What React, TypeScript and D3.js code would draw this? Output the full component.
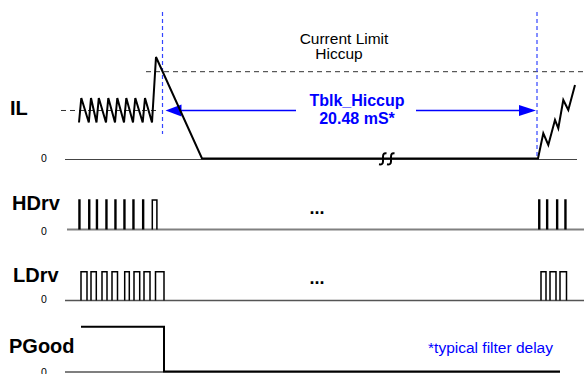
import React from 'react';
import * as d3 from 'd3';

// time axis in arbitrary units
const ilTime = [15, 17.3, 24.8, 27, 32.5, 34.8, 42, 44.3, 51, 53.3, 60, 62.3, 69, 71.3, 78.7, 81, 88, 92, 138, 474, 479.3, 484.3, 491, 494.3, 499.3, 504.3, 511];
const ilValue = [4.15, 6.97, 4.15, 6.97, 4.15, 6.97, 4.15, 6.97, 4.15, 6.97, 4.15, 6.97, 4.15, 6.97, 4.15, 6.97, 4.15, 11.69, 0, 0, 2.9, 1.56, 4.44, 3.48, 6.74, 5.59, 8.47];
const currentLimit = 10;
const currentAvg = 5.53;

const hdrvStart = [15, 24.8, 32.5, 42, 51, 60, 69, 78.7, 88.3, 474.8, 482.7, 492.7, 501];
const hdrvWidth = [0.9, 0.9, 0.9, 0.9, 0.9, 0.9, 0.9, 0.9, 4.6, 0.9, 0.9, 0.9, 0.9];

const ldrvStart = [17, 27, 38, 48, 60.7, 70, 80, 91.5, 477, 486, 496];
const ldrvEnd = [23, 32.3, 43, 53.5, 65.3, 75.7, 86, 100, 482, 492, 502.5];

const pgTime = [17, 100, 100, 496];
const pgValue = [1, 1, 0, 0];

const markerTimes = [98.5, 473];
const labels = ['IL', 'HDrv', 'LDrv', 'PGood'];

const FONT = 'Liberation Sans, Arial, Helvetica, sans-serif';

export default function App() {
  const x = d3.scaleLinear().domain([0, 520]).range([64, 584]);
  const yIL = d3.scaleLinear().domain([0, 10]).range([158.5, 71.7]);
  const yH = d3.scaleLinear().domain([0, 1]).range([229.5, 200]);
  const yL = d3.scaleLinear().domain([0, 1]).range([300.5, 271.7]);
  const yP = d3.scaleLinear().domain([0, 1]).range([371.5, 326.7]);

  const ilLine = d3.line<number>().x((_, i) => x(ilTime[i])).y((d) => yIL(d));
  const ilPath = ilLine(ilValue) || '';

  const pulse = (y: d3.ScaleLinear<number, number>) =>
    d3.line<[number, number]>().x((d) => x(d[0])).y((d) => y(d[1]));

  const hPaths = hdrvStart.map((s, i) =>
    pulse(yH)([[s, 0], [s, 1], [s + hdrvWidth[i], 1], [s + hdrvWidth[i], 0]]) || ''
  );
  const lPaths = ldrvStart.map((s, i) =>
    pulse(yL)([[s, 0], [s, 1], [ldrvEnd[i], 1], [ldrvEnd[i], 0]]) || ''
  );
  const pgPath = d3.line<number>().x((_, i) => x(pgTime[i])).y((d) => yP(d))(pgValue) || '';

  const breakMark = (cx: number) =>
    `M${cx + 3.5},153.5 Q${cx},152.3 ${cx},157 L${cx},161.5 Q${cx},165 ${cx - 4},164.3`;

  const arrowY = yIL(currentAvg);
  const aL = x(101.5);
  const aLend = x(232);
  const aR = x(472);
  const aRstart = x(352);
  const textX = x(293);

  return (
    <svg width={584} height={374} style={{ position: 'absolute', left: 0, top: 0, background: '#fff' }}>
      {/* baselines */}
      <line x1={65} x2={577} y1={159.5} y2={159.5} stroke="#444" strokeWidth={1.2} />
      <line x1={67} x2={584} y1={yH(0)} y2={yH(0)} stroke="#808080" strokeWidth={2} />
      <line x1={65} x2={584} y1={yL(0)} y2={yL(0)} stroke="#555" strokeWidth={1.5} />
      <line x1={65} x2={560} y1={372} y2={372} stroke="#555" strokeWidth={1.5} />

      {/* dashed reference lines */}
      <line x1={146} x2={584} y1={yIL(currentLimit)} y2={yIL(currentLimit)} stroke="#333" strokeWidth={1} strokeDasharray="5,4" />
      <line x1={61} x2={160} y1={yIL(currentAvg)} y2={yIL(currentAvg)} stroke="#333" strokeWidth={1} strokeDasharray="5,4" />

      {/* blue markers */}
      <line x1={x(markerTimes[0])} x2={x(markerTimes[0])} y1={12} y2={134} stroke="#3344ff" strokeWidth={1.2} strokeDasharray="4,3" />
      <line x1={x(markerTimes[1])} x2={x(markerTimes[1])} y1={12} y2={158} stroke="#3344ff" strokeWidth={1.2} strokeDasharray="4,3" />

      {/* arrows */}
      <line x1={aL + 10} x2={aLend} y1={arrowY} y2={arrowY} stroke="#0000ff" strokeWidth={1.3} />
      <path d={`M${aL},${arrowY} L${aL + 16},${arrowY - 6} L${aL + 16},${arrowY + 6} Z`} fill="#0000ff" />
      <line x1={aRstart} x2={aR - 10} y1={arrowY} y2={arrowY} stroke="#0000ff" strokeWidth={1.3} />
      <path d={`M${aR},${arrowY} L${aR - 17},${arrowY - 5.5} L${aR - 17},${arrowY + 5.5} Z`} fill="#0000ff" />
      <text x={textX} y={106} fill="#0000ff" fontFamily={FONT} fontWeight="bold" fontSize={16} textAnchor="middle">Tblk_Hiccup</text>
      <text x={textX} y={124} fill="#0000ff" fontFamily={FONT} fontWeight="bold" fontSize={16} textAnchor="middle">20.48 mS*</text>

      <text x={344} y={43.5} fill="#000" fontFamily={FONT} fontSize={15.5} textAnchor="middle">Current Limit</text>
      <text x={339} y={59} fill="#000" fontFamily={FONT} fontSize={15.5} textAnchor="middle">Hiccup</text>

      {/* IL waveform */}
      <path d={ilPath} fill="none" stroke="#000" strokeWidth={2} strokeLinejoin="miter" />
      <path d={breakMark(x(319))} fill="none" stroke="#000" strokeWidth={2} />
      <path d={breakMark(x(327))} fill="none" stroke="#000" strokeWidth={2} />

      {/* HDrv / LDrv pulses */}
      {hPaths.map((d, i) => (
        <path key={'h' + i} d={d} fill="none" stroke="#000" strokeWidth={1.5} />
      ))}
      {lPaths.map((d, i) => (
        <path key={'l' + i} d={d} fill="none" stroke="#000" strokeWidth={1.5} />
      ))}
      <text x={317} y={214} fontFamily={FONT} fontWeight="bold" fontSize={18} textAnchor="middle">...</text>
      <text x={317} y={284} fontFamily={FONT} fontWeight="bold" fontSize={18} textAnchor="middle">...</text>

      {/* PGood */}
      <path d={pgPath} fill="none" stroke="#000" strokeWidth={2} />
      <text x={553} y={353} fill="#0000ff" fontFamily={FONT} fontSize={15.5} textAnchor="end">*typical filter delay</text>

      {/* labels */}
      <text x={10} y={115} fontFamily={FONT} fontWeight="bold" fontSize={20}>{labels[0]}</text>
      <text x={12} y={210} fontFamily={FONT} fontWeight="bold" fontSize={20}>{labels[1]}</text>
      <text x={13} y={282} fontFamily={FONT} fontWeight="bold" fontSize={20}>{labels[2]}</text>
      <text x={9} y={353} fontFamily={FONT} fontWeight="bold" fontSize={20}>{labels[3]}</text>
      <text x={41} y={162} fontFamily={FONT} fontSize={10.5}>0</text>
      <text x={41} y={235} fontFamily={FONT} fontSize={10.5}>0</text>
      <text x={41} y={303} fontFamily={FONT} fontSize={10.5}>0</text>
      <text x={41} y={375.5} fontFamily={FONT} fontSize={10.5}>0</text>
    </svg>
  );
}
